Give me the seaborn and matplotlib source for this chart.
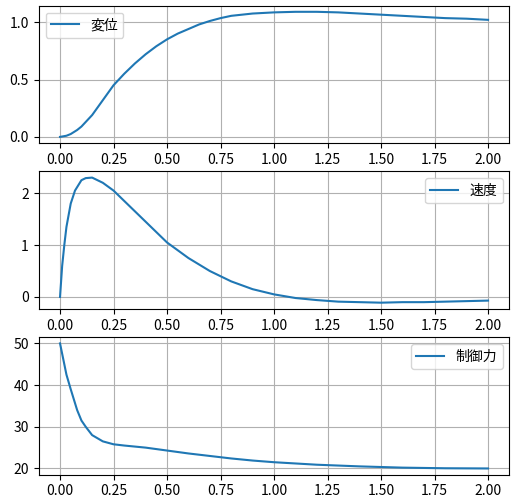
import matplotlib
matplotlib.use("Agg")
import matplotlib.pyplot as plt
import seaborn as sns

plt.rcParams['font.family'] = ['Noto Sans CJK JP', 'DejaVu Sans']
plt.rcParams['axes.unicode_minus'] = False

# ===== data =====
t_disp = [0, 0.03, 0.05, 0.08, 0.1, 0.15, 0.2, 0.25, 0.3, 0.35, 0.4, 0.45, 0.5, 0.55, 0.6, 0.65,
          0.7, 0.75, 0.8, 0.85, 0.9, 1.0, 1.1, 1.2, 1.3, 1.4, 1.5, 1.6, 1.7, 1.8, 1.9, 2.0]
disp = [0, 0.01, 0.025, 0.06, 0.09, 0.19, 0.32, 0.45, 0.55, 0.64, 0.72, 0.79, 0.85, 0.9,
        0.94, 0.98, 1.01, 1.035, 1.055, 1.065, 1.075, 1.085, 1.09, 1.09, 1.085, 1.075,
        1.065, 1.055, 1.045, 1.035, 1.03, 1.02]

t_vel = [0, 0.01, 0.02, 0.03, 0.05, 0.07, 0.1, 0.12, 0.15, 0.2, 0.25, 0.3, 0.4, 0.5, 0.6,
         0.7, 0.8, 0.9, 1.0, 1.1, 1.2, 1.3, 1.4, 1.5, 1.6, 1.7, 1.8, 1.9, 2.0]
vel = [0, 0.6, 1.0, 1.35, 1.8, 2.05, 2.25, 2.29, 2.3, 2.2, 2.05, 1.85, 1.45, 1.05, 0.75,
       0.5, 0.3, 0.15, 0.05, -0.02, -0.06, -0.09, -0.1, -0.11, -0.1, -0.1, -0.09, -0.08, -0.07]

t_ctrl = [0, 0.01, 0.02, 0.03, 0.05, 0.08, 0.1, 0.12, 0.15, 0.2, 0.25, 0.3, 0.4, 0.5, 0.6,
          0.7, 0.8, 0.9, 1.0, 1.2, 1.4, 1.6, 1.8, 2.0]
ctrl = [50, 47.5, 45, 42.5, 39, 34, 31.5, 30, 28, 26.5, 25.8, 25.5, 25, 24.3, 23.6,
        23, 22.4, 21.9, 21.5, 20.9, 20.5, 20.2, 20.05, 20]

fig, axes = plt.subplots(3, 1, figsize=(5.15, 5.04), dpi=100)

series = [
    (t_disp, disp, '変位', 'upper left'),
    (t_vel, vel, '速度', 'upper right'),
    (t_ctrl, ctrl, '制御力', 'upper right'),
]
for ax, (x, y, lbl, loc) in zip(axes, series):
    sns.lineplot(x=x, y=y, ax=ax, label=lbl, color='#1f77b4')
    ax.set_xticks([0, 0.25, 0.5, 0.75, 1.0, 1.25, 1.5, 1.75, 2.0])
    ax.grid(True, color='#b0b0b0', linewidth=0.8)
    ax.legend(loc=loc)
    ax.tick_params(labelsize=10)

axes[0].set_yticks([0, 0.5, 1.0])
axes[1].set_yticks([0, 1, 2])
axes[2].set_yticks([20, 30, 40, 50])

plt.tight_layout(pad=0.4, h_pad=0.3)
plt.subplots_adjust(left=0.075)
plt.savefig('out.png', dpi=100)
